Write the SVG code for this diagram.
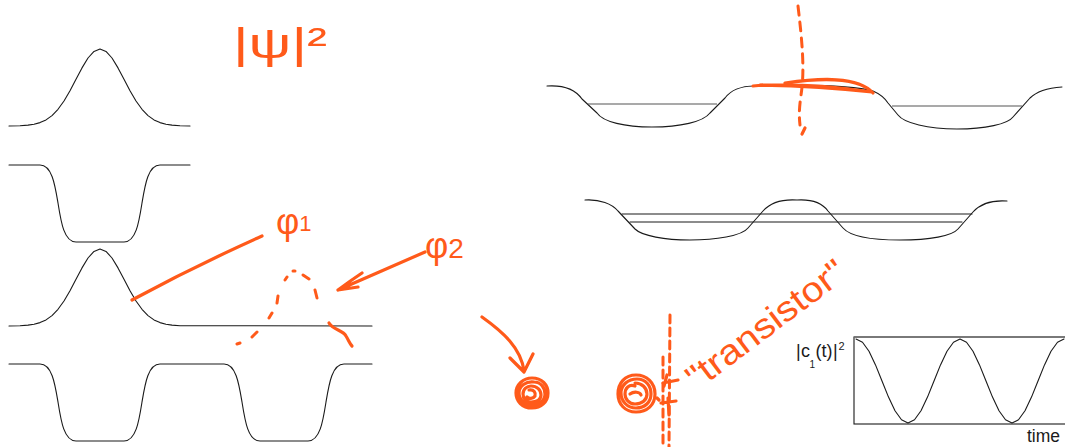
<svg xmlns="http://www.w3.org/2000/svg" width="1065" height="447" viewBox="0 0 1065 447">
<style>
.k{fill:none;stroke:#1a1a1a;stroke-width:1.1;stroke-linejoin:round;stroke-linecap:round}
.g{fill:none;stroke:#555;stroke-width:1.2}
.o{fill:none;stroke:#ff5a1a;stroke-width:3.2;stroke-linecap:round;stroke-linejoin:round}
.od{fill:none;stroke:#ff5a1a;stroke-width:3;stroke-linecap:round}
.ot{fill:#ff5a1a;font-family:"Liberation Sans","DejaVu Sans",sans-serif}
.bt{fill:#1a1a1a;font-family:"Liberation Sans",Arial,sans-serif}
</style>
<rect width="1065" height="447" fill="#fff"/>

<g id="wave-gauss-top">
<polyline class="k" points="9,126 20,125.7 28,125.1 34,124.2 40,122.6 46,119.9 52,115.6 58,109.3 64,101 70,90.75 76,79.3 82,67.9 88,58 94,51.4 100,49 106,51.4 112,58 118,67.9 124,79.3 130,90.75 136,101 142,109.3 148,115.6 154,119.9 160,122.6 166,124.2 172,125.1 180,125.7 190,126"/>
</g>
<g id="wave-well">
<path class="k" d="M9,165 H40 C52,165 55,185 58,203 C61,222 64,242 76,242 H124 C136,242 139,222 142,203 C145,185 148,165 160,165 H190"/>
</g>
<g id="wave-gauss-long">
<polyline class="k" transform="translate(0,200)" points="9,126 20,125.7 28,125.1 34,124.2 40,122.6 46,119.9 52,115.6 58,109.3 64,101 70,90.75 76,79.3 82,67.9 88,58 94,51.4 100,49 106,51.4 112,58 118,67.9 124,79.3 130,90.75 136,101 142,109.3 148,115.6 154,119.9 160,122.6 166,124.2 172,125.1 180,125.7 372,126"/>
</g>
<g id="wave-double-well">
<path class="k" d="M9,364 H40 C52,364 55,384 58,402 C61,421 64,441 76,441 H124 C136,441 139,421 142,402 C145,384 148,364 160,364 H224 C236,364 239,384 242,402 C245,421 248,441 260,441 H308 C320,441 323,421 326,402 C329,384 332,364 344,364 H372"/>
</g>

<g id="potential-top">
<path class="k" d="M547,86 C562,85 575,89 582,99 L597,113 C603,122 625,127 652,127 C680,127 703,122 710,113 L725,98 C731,90 742,86 753,86 C790,85 850,84 873,91 C880,94 884,97 888,103 L898,115 C904,123 928,129 957,129 C985,129 1008,124 1013,117 L1030,98 C1037,91 1048,88 1062,87"/>
<line class="g" x1="588" y1="104" x2="717" y2="104"/>
<line class="g" x1="892" y1="106" x2="1022" y2="106"/>
</g>
<g id="potential-bottom">
<path class="k" d="M585,200 C600,199 612,204 618,211 L635,229 C642,236 665,240 690,240 C715,240 742,236 748,228 L763,211 C770,203 781,199 797,200 C814,199 823,204 828,211 L843,228 C850,236 872,240 900,240 C930,240 952,236 958,229 L973,212 C980,204 992,200 1007,201"/>
<line class="k" x1="622" y1="214" x2="972" y2="214"/>
<line class="k" x1="630" y1="222" x2="962" y2="222"/>
</g>

<g id="graph">
<rect x="854" y="337" width="220" height="87" fill="none" stroke="#1a1a1a" stroke-width="1.1"/>
<line x1="854" y1="337" x2="1065" y2="337" stroke="#777" stroke-width="1.4"/>
<polyline class="k" points="856,339 862.5,342.2 869,351.3 875.5,364.9 882,381 888.5,397.1 895,410.7 901.5,419.8 908,423 914.5,419.8 921,410.7 927.5,397.1 934,381 940.5,364.9 947,351.3 953.5,342.2 960,339 966.5,342.2 973,351.3 979.5,364.9 986,381 992.5,397.1 999,410.7 1005.5,419.8 1012,423 1018.5,419.8 1025,410.7 1031.5,397.1 1038,381 1044.5,364.9 1051,351.3 1057.5,342.2 1064,339"/>
<text class="bt" font-size="18"><tspan x="796" y="357">|</tspan><tspan x="801" y="357">c</tspan><tspan x="809.5" y="368" font-size="10">1</tspan><tspan x="815.5" y="357">(t)</tspan><tspan x="833" y="357">|</tspan><tspan x="838.5" y="350" font-size="11">2</tspan></text>
<text class="bt" x="1027" y="442" font-size="17.5">time</text>
</g>

<g id="annotations">
<text class="ot" x="233" y="58" font-size="42" textLength="94" lengthAdjust="spacingAndGlyphs">|ψ|²</text>
<text class="ot" x="276" y="234" font-size="36">φ<tspan font-size="22" dy="-3">1</tspan></text>
<text class="ot" x="425" y="258" font-size="36">φ<tspan font-size="28">2</tspan></text>
<text class="ot" font-size="35" transform="translate(697,391) rotate(-37)" textLength="190" lengthAdjust="spacingAndGlyphs">"transistor"</text>
</g>

<g id="connectors">
<path class="o" d="M132,300 Q195,266 262,236"/>
<path class="o" d="M425,252 L338,290 M362,273 Q350,281 338,290 L358,287"/>
<path class="od" d="M237,344 L240,343 M252,337 L257,332 M269,318 L272,313 M277,303 L278,296 M285,280 L287,277 M293,271 L295,271 M303,275 L309,279 M315,290 L317,298"/>
<path class="o" d="M329,323 C333,330 343,330 346,336 C349,341 350,344 352,346"/>
<path class="o" d="M753,86 Q800,82 865,91 M760,85 Q820,86 872,92 M785,83 C820,78 858,76 873,93"/>
<path class="od" stroke-dasharray="9 7" d="M798,6 C802,40 805,70 801,95 C799,110 799,116 800,125"/>
<path class="o" d="M805,128 L802,134"/>
<path class="o" d="M482,317 C503,332 521,348 524,371 M510,358 L524,372 L533,354"/>
<path class="o" stroke-width="3" d="M532,378 C542,378 548,385 548,393 C548,402 541,408 532,408 C522,408 516,401 516,393 C516,385 523,378 532,378 M534,382 C541,382 545,388 545,394 C545,401 539,405 532,405 C525,405 519,400 519,393 C519,386 526,381 534,382 M531,386 C537,386 541,390 541,395 C541,400 536,402 531,402 C526,402 523,398 523,394 C523,389 527,386 531,386 M529,390 C534,389 536,393 535,396 C533,399 529,399 527,397"/>
<path class="o" stroke-width="3" d="M636,375 C647,375 655,383 655,394 C655,405 647,412 636,412 C625,412 618,404 618,394 C618,383 625,375 636,375 M637,379 C646,379 651,386 651,394 C651,402 645,408 636,408 C627,408 621,401 621,393 C621,385 628,379 637,379 M635,383 C642,383 647,388 647,394 C647,400 642,404 635,404 C629,404 625,399 625,394 C625,388 629,384 635,386 M630,394 C634,391 640,392 641,395"/>
<path class="od" stroke-width="2.6" stroke-dasharray="8 5" d="M670,315 L669,447"/>
<path class="od" stroke-width="2.6" stroke-dasharray="8 5" d="M663,357 L663,447"/>
<path class="o" stroke-width="2.6" d="M663,383 L678,380 M667,375 L664,386 M668,398 L669,415 M661,403 L676,401 M657,398 L659,400"/>
</g>
</svg>
